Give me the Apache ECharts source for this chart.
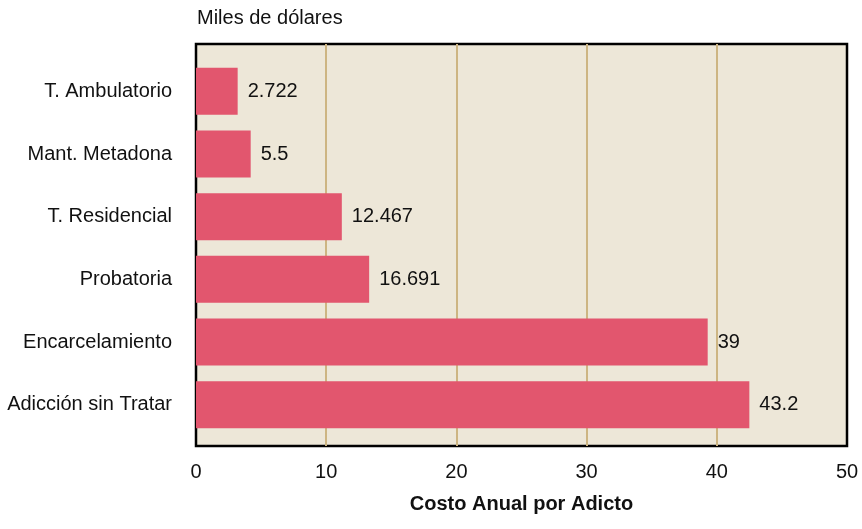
<!DOCTYPE html>
<html>
<head>
<meta charset="utf-8">
<script src="https://cdn.jsdelivr.net/npm/echarts@6/dist/echarts.min.js"></script>
<style>
html,body{margin:0;padding:0;background:#fff;}
#chart{width:862px;height:529px;}
</style>
</head>
<body>
<div id="chart"></div>
<script>
// Data
const categories = ['T. Ambulatorio', 'Mant. Metadona', 'T. Residencial', 'Probatoria', 'Encarcelamiento', 'Adicción sin Tratar'];
// bar lengths as drawn in the picture (thousands of dollars, on the 0-50 axis)
const barLengths = [3.2, 4.2, 11.2, 13.3, 39.3, 42.5];
// value labels printed next to the bars
const valueLabels = ['2.722', '5.5', '12.467', '16.691', '39', '43.2'];
const xTicks = [0, 10, 20, 30, 40, 50];
const unitLabel = 'Miles de dólares';
const xAxisTitle = 'Costo Anual por Adicto';

const FONT = '"Liberation Sans", Arial, sans-serif';
const FS = 20;
const chart = echarts.init(document.getElementById('chart'), null, {renderer: 'canvas'});

chart.setOption({
  animation: false,
  backgroundColor: '#ffffff',
  title: {
    text: unitLabel,
    left: 192,
    top: 3,
    textStyle: {fontFamily: FONT, fontSize: FS, fontWeight: 'normal', color: '#111'}
  },
  grid: [
    {left: 196, right: 15, top: 44, bottom: 83, show: true, outerBoundsMode: 'none',
     backgroundColor: '#EDE7D8', borderColor: '#000', borderWidth: 2.5, containLabel: false},
    {left: 196, right: 15, top: 60, bottom: 93, show: false, outerBoundsMode: 'none', containLabel: false}
  ],
  xAxis: [
    {gridIndex: 0, type: 'value', min: xTicks[0], max: xTicks[xTicks.length - 1], interval: 10,
     axisLine: {show: false}, axisTick: {show: false},
     splitLine: {show: true, showMinLine: false, showMaxLine: false, lineStyle: {color: '#CDB582', width: 2}},
     axisLabel: {fontFamily: FONT, fontSize: FS, color: '#111', margin: 16},
     name: xAxisTitle, nameLocation: 'middle', nameGap: 48,
     nameTextStyle: {fontFamily: FONT, fontSize: FS, fontWeight: 'bold', color: '#111'}},
    {gridIndex: 1, type: 'value', min: xTicks[0], max: xTicks[xTicks.length - 1], show: false}
  ],
  yAxis: [
    {gridIndex: 0, type: 'value', show: false},
    {gridIndex: 1, type: 'category', data: categories, inverse: true,
     axisLine: {show: false}, axisTick: {show: false}, splitLine: {show: false},
     axisLabel: {fontFamily: FONT, fontSize: FS, color: '#111', margin: 24}}
  ],
  series: [{
    type: 'bar',
    xAxisIndex: 1, yAxisIndex: 1,
    data: barLengths,
    barWidth: '75%',
    itemStyle: {color: '#E2566E'},
    label: {
      show: true, position: 'right', distance: 10,
      fontFamily: FONT, fontSize: FS, color: '#111',
      formatter: p => valueLabels[p.dataIndex]
    }
  }]
});
</script>
</body>
</html>
